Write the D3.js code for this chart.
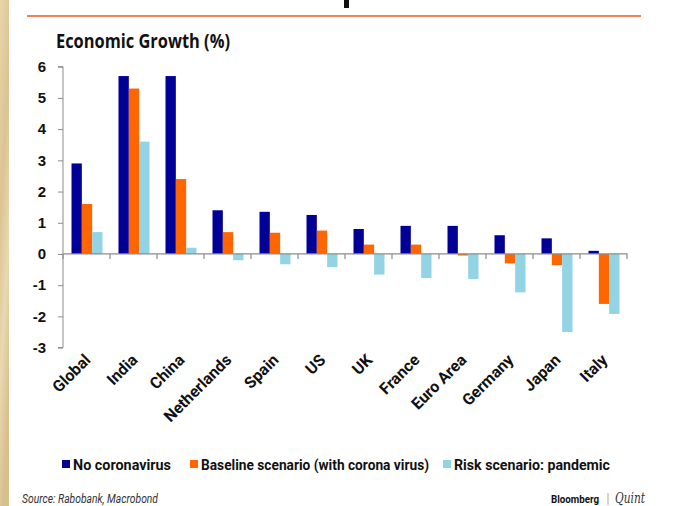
<!DOCTYPE html>
<html>
<head>
<meta charset="utf-8">
<style>
  html, body { margin: 0; padding: 0; background: #fff; }
  svg { display: block; }
</style>
</head>
<body>
<svg width="688" height="506"></svg>
<script src="https://d3js.org/d3.v7.min.js"></script>
<script>

// data
var categories = ["Global", "India", "China", "Netherlands", "Spain", "US", "UK", "France", "Euro Area", "Germany", "Japan", "Italy"];
var seriesNames = ["No coronavirus", "Baseline scenario (with corona virus)", "Risk scenario: pandemic"];
var noCorona = [2.9, 5.7, 5.7, 1.4, 1.35, 1.25, 0.8, 0.9, 0.9, 0.6, 0.5, 0.1];
var baseline = [1.6, 5.3, 2.4, 0.7, 0.68, 0.75, 0.3, 0.3, -0.05, -0.3, -0.36, -1.6];
var pandemic = [0.7, 3.6, 0.2, -0.2, -0.33, -0.42, -0.66, -0.77, -0.8, -1.23, -2.5, -1.92];
var yTicks = [6, 5, 4, 3, 2, 1, 0, -1, -2, -3];

var colors = ["#000096", "#ff6600", "#92d3e4"];
var values = [noCorona, baseline, pandemic];

var svg = d3.select("svg");

// textured strip on the left edge
var grad = svg.append("defs").append("linearGradient")
    .attr("id", "parch").attr("x1", 0).attr("y1", 0).attr("x2", 0.3).attr("y2", 1);
grad.append("stop").attr("offset", "0%").attr("stop-color", "#e9d6ab");
grad.append("stop").attr("offset", "40%").attr("stop-color", "#dcc393");
grad.append("stop").attr("offset", "70%").attr("stop-color", "#ead8b0");
grad.append("stop").attr("offset", "100%").attr("stop-color", "#d8bf8e");
svg.append("rect").attr("x", 0).attr("y", 0).attr("width", 9).attr("height", 506).attr("fill", "url(#parch)");

// bit of the headline above that is cropped off
svg.append("rect").attr("x", 344).attr("y", 0).attr("width", 5).attr("height", 8).attr("fill", "#111");

svg.append("line")
    .attr("x1", 27).attr("x2", 641).attr("y1", 16).attr("y2", 16)
    .attr("stroke", "#f08255").attr("stroke-width", 2);

svg.append("text")
    .attr("x", 56).attr("y", 48)
    .attr("font-family", "'Open Sans', sans-serif").attr("font-weight", "bold").attr("font-size", 19)
    .attr("textLength", 174).attr("lengthAdjust", "spacingAndGlyphs")
    .attr("fill", "#111")
    .text("Economic Growth (%)");

var x0 = d3.scaleBand().domain(categories).range([63, 627]);
var x1 = d3.scaleBand().domain(d3.range(3)).range([8.5, 39.5]);
var y = d3.scaleLinear().domain([-3, 6]).range([347.6, 66.7]);

// y axis
var yAxis = svg.append("g").attr("transform", "translate(63,0)")
    .call(d3.axisLeft(y).tickValues(yTicks).tickSize(5).tickPadding(12).tickFormat(function(d) { return String(d); }));
yAxis.select(".domain").attr("stroke", "#8c8c8c").attr("d", "M-5," + y(6) + "H0V" + y(-3) + "H-5");
yAxis.selectAll(".tick line").attr("stroke", "#8c8c8c");
yAxis.selectAll(".tick text")
    .attr("font-family", "'Liberation Sans', Arial, sans-serif").attr("font-weight", "bold")
    .attr("font-size", 15).attr("fill", "#111");

// bars
var groups = svg.append("g").selectAll("g")
    .data(categories)
    .join("g")
    .attr("transform", function(d) { return "translate(" + x0(d) + ",0)"; });

groups.selectAll("rect")
    .data(function(d, i) { return values.map(function(v, s) { return { s: s, v: v[i] }; }); })
    .join("rect")
    .attr("x", function(d) { return x1(d.s); })
    .attr("width", x1.bandwidth())
    .attr("y", function(d) { return y(Math.max(0, d.v)); })
    .attr("height", function(d) { return Math.abs(y(d.v) - y(0)); })
    .attr("fill", function(d) { return colors[d.s]; });

// zero line with category ticks
var xAxis = svg.append("g").attr("transform", "translate(0," + y(0) + ")")
    .call(d3.axisBottom(x0).tickSize(0).tickFormat(""));
xAxis.select(".domain").attr("stroke", "#8c8c8c").attr("stroke-width", 1.2).attr("d", "M63,0H627.5");
xAxis.selectAll(".tick").remove();
xAxis.selectAll("line.sep")
    .data(categories.concat(["end"]))
    .join("line")
    .attr("class", "sep")
    .attr("x1", function(d, i) { return 63 + i * x0.step(); })
    .attr("x2", function(d, i) { return 63 + i * x0.step(); })
    .attr("y1", 0).attr("y2", 5)
    .attr("stroke", "#8c8c8c").attr("stroke-width", 1.2);

// rotated category labels
svg.append("g").selectAll("text")
    .data(categories)
    .join("text")
    .attr("transform", function(d) { return "translate(" + (x0(d) + x0.bandwidth() / 2 + 5) + ",361) rotate(-45)"; })
    .attr("text-anchor", "end")
    .attr("font-family", "Roboto, sans-serif").attr("font-weight", "bold").attr("font-size", 16)
    .attr("fill", "#111")
    .text(function(d) { return d; });

// legend
var legendX = [62, 190, 443];
var legendW = [98, 228, 156];
var legend = svg.append("g").selectAll("g")
    .data(seriesNames)
    .join("g")
    .attr("transform", function(d, i) { return "translate(" + legendX[i] + ",460)"; });
legend.append("rect")
    .attr("width", 8).attr("height", 8)
    .attr("fill", function(d, i) { return colors[i]; });
legend.append("text")
    .attr("x", 11).attr("y", 9.5)
    .attr("font-family", "Roboto, sans-serif").attr("font-weight", "bold").attr("font-size", 15)
    .attr("textLength", function(d, i) { return legendW[i]; }).attr("lengthAdjust", "spacingAndGlyphs")
    .attr("fill", "#111")
    .text(function(d) { return d; });

// footer
svg.append("text")
    .attr("x", 22).attr("y", 503)
    .attr("font-family", "Roboto, sans-serif").attr("font-style", "italic").attr("font-size", 12)
    .attr("textLength", 136).attr("lengthAdjust", "spacingAndGlyphs")
    .attr("fill", "#333")
    .text("Source: Rabobank, Macrobond");

svg.append("text")
    .attr("x", 551).attr("y", 503)
    .attr("font-family", "Roboto, sans-serif").attr("font-weight", "bold").attr("font-size", 11)
    .attr("textLength", 48).attr("lengthAdjust", "spacingAndGlyphs")
    .attr("fill", "#111")
    .text("Bloomberg");
svg.append("line")
    .attr("x1", 608).attr("x2", 608).attr("y1", 493).attr("y2", 505)
    .attr("stroke", "#aaa").attr("stroke-width", 1);
svg.append("text")
    .attr("x", 615).attr("y", 503)
    .attr("font-family", "'DejaVu Serif', 'Liberation Serif', serif").attr("font-style", "italic").attr("font-size", 14)
    .attr("textLength", 30).attr("lengthAdjust", "spacingAndGlyphs")
    .attr("fill", "#333")
    .text("Quint");

</script>
</body>
</html>
